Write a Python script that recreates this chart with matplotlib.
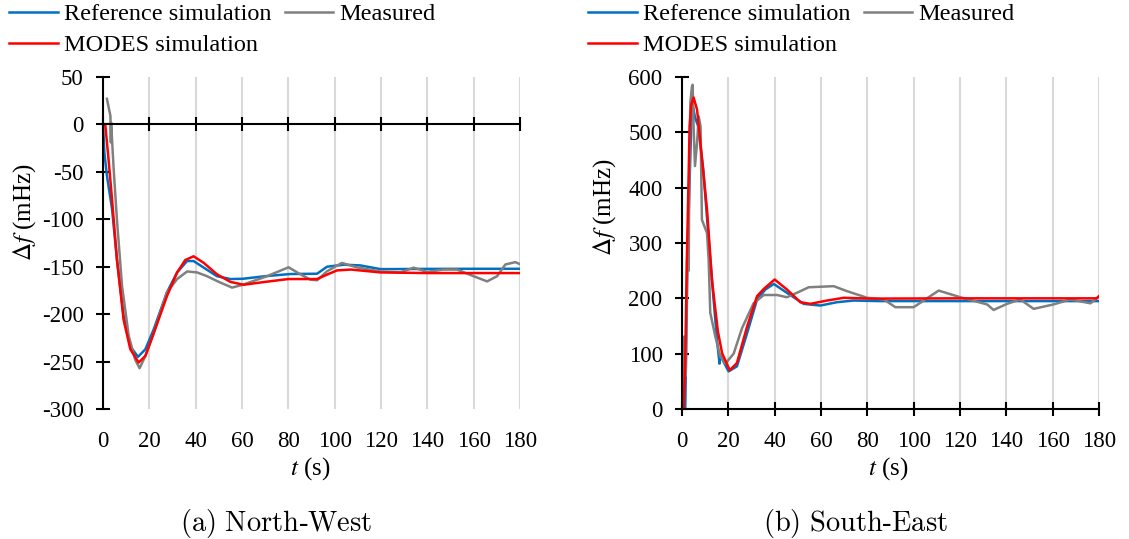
import matplotlib
matplotlib.use('Agg')
import matplotlib.pyplot as plt

plt.rcParams['font.family'] = ['Liberation Serif', 'DejaVu Serif']
plt.rcParams['mathtext.fontset'] = 'stix'
plt.rcParams['axes.unicode_minus'] = False

# North-West (t in s, df in mHz)
nw_ref_t = [0, 0.6, 1.7, 3.9, 6, 8.9, 11.8, 15.1, 18.3, 21.9, 27.6, 32, 36.3, 39.1, 43.5, 49.2, 55,
            60.4, 70, 80.9, 92.4, 96.7, 103.9, 111, 119.7, 125.5, 140, 160, 180]
nw_ref_v = [0, -30, -54, -89, -142, -202, -234, -245, -237, -216, -177, -156, -144, -144, -151, -160, -163,
            -162.7, -160, -157.7, -157.4, -150, -147.9, -148.6, -152.5, -152.5, -152.3, -152.2, -152.2]

nw_meas_t = [1.7, 3.2, 3.4, 3.5, 4.6, 6, 8.2, 11.1, 13.9, 15.8, 18.3, 21.9, 27.6, 32, 36.3, 40.6, 44.9,
             50, 55.7, 60.4, 70.8, 80.1, 85.2, 89.5, 92.4, 96.7, 103.1, 109.6, 119.7, 128.4, 134.1,
             139.9, 147, 152.8, 160, 165.8, 170.1, 173.7, 178, 180]
nw_meas_v = [27, 9, -19, 2, -47, -100, -170, -223, -248, -257, -244, -220, -177, -163, -155, -156, -160,
             -166, -172, -169, -160, -150.6, -158, -163.6, -164.3, -154.8, -146, -150.7, -155, -156, -151,
             -155.5, -153, -153, -160, -165.5, -160, -147.6, -145.2, -147.3]

nw_mod_t = [0, 1, 2.4, 3.9, 6, 8.9, 11.8, 15.4, 18.3, 21.9, 27.6, 32, 35.5, 39.1, 43.5, 49.2, 55, 60.7,
            70, 80, 92.4, 97, 101, 107, 119.7, 140, 160, 180]
nw_mod_v = [0, -1, -37, -79, -142, -206, -237, -251, -244, -220, -181, -156, -143, -139, -146, -158, -166,
            -169, -166, -163, -163, -158, -153.9, -153, -156, -156.7, -156.7, -156.7]

# South-East
se_ref_t = [1.4, 2.5, 4.3, 5.6, 7, 9.2, 12.2, 15.1, 16.2, 16.4, 20.1, 23.7, 28.1, 32.4, 36, 39.6, 45.3,
            52.5, 59.7, 66.9, 74.1, 85, 100, 140, 180]
se_ref_v = [0, 300, 557, 527, 511, 432, 270, 125, 82, 98, 68, 77, 137, 198, 216, 226, 210,
            190, 187, 193, 196, 195, 195, 195, 195]

se_meas_t = [0.7, 1.0, 1.6, 2.2, 2.9, 3.1, 3.6, 4.3, 4.6, 5.0, 5.6, 6.5, 7.2, 8.0, 8.6, 10.8, 11.5, 12.2,
             14.4, 16.5, 18.7, 22.3, 25.9, 30.9, 35.3, 41, 45.3, 49.6, 54.7, 65.5, 71.2, 79.9, 87.1, 92.1,
             100, 110.8, 120.1, 131.7, 134.5, 140.3, 146, 151.8, 160.4, 167.6, 176.3, 179.9]
se_meas_v = [0, 131, 60, 270, 250, 400, 553, 583, 586, 511, 439, 481, 529, 511, 342, 318, 270, 174,
             131, 95, 82, 100, 146, 191, 206, 206, 202, 210, 220, 222, 213, 201, 198, 184,
             184, 214, 202, 189, 179, 190, 198, 181, 189, 198, 191, 203]

se_mod_t = [0, 0.7, 1.4, 2.1, 3.3, 4.0, 5.0, 6.5, 8.2, 10.8, 13, 15.5, 17.3, 20.6, 23.7, 28.1, 32.4, 35.3,
            40, 45.3, 51.1, 55.4, 62.6, 69.8, 81.3, 120, 179, 180]
se_mod_v = [0, 0, 89, 270, 511, 550, 563, 541, 470, 360, 230, 140, 101, 70, 83, 149, 204, 217,
            234, 216, 193, 190, 196, 201, 199.5, 200, 200, 204]

xticks = list(range(0, 181, 20))
labels = ['Reference simulation', 'MODES simulation', 'Measured']

W, H = 1129, 539
fig = plt.figure(figsize=(W / 100, H / 100), dpi=100)


def panel(left_px, ref, meas, mod, ylim, ystep, legend_x, ylab_x, ylab_y, xlab_x, caption, cap_x):
    ax = fig.add_axes([left_px / W, 1 - 409 / H, 417 / W, 332 / H])
    h1, = ax.plot(ref[0], ref[1], color='#0070C0', lw=1.8)
    h2, = ax.plot(meas[0], meas[1], color='#808080', lw=1.8)
    h3, = ax.plot(mod[0], mod[1], color='#FF0000', lw=1.8)
    ax.set_xlim(0, 180)
    ax.set_ylim(*ylim)
    ax.set_yticks(range(ylim[0], ylim[1] + 1, ystep))
    ax.set_xticks(xticks)
    ax.grid(axis='x', color='#d9d9d9', lw=1.5)
    ax.set_axisbelow(True)
    for s in ['top', 'right']:
        ax.spines[s].set_visible(False)
    ax.spines['bottom'].set_position(('data', 0))
    ax.spines['bottom'].set_linewidth(1.5)
    ax.spines['left'].set_linewidth(1.5)
    ax.tick_params(axis='x', direction='inout', length=10, width=1.5, labelbottom=False)
    ax.tick_params(axis='y', direction='inout', length=10, width=1.5, labelsize=16.5, pad=9)
    sec = ax.secondary_xaxis('bottom')
    sec.set_xticks(xticks)
    sec.spines['bottom'].set_visible(False)
    sec.tick_params(length=0, pad=16, labelsize=16.5)
    ax.legend([h1, h3, h2], labels, ncol=2, loc='upper left',
              bbox_to_anchor=(legend_x / W, 1 - 3 / H), bbox_transform=fig.transFigure,
              frameon=False, borderpad=0, borderaxespad=0, handlelength=2.0,
              handletextpad=0.25, columnspacing=0.55, labelspacing=0.38, fontsize=17.5)
    fig.text(ylab_x / W, 1 - ylab_y / H, r'$\Delta f$ (mHz)', rotation=90, fontsize=18,
             ha='center', va='center')
    fig.text(xlab_x / W, 1 - 469 / H, r'$t$ (s)', fontsize=18, ha='center', va='center')
    fig.text(cap_x / W, 1 - 523 / H, caption, fontsize=20.5, ha='center', va='center',
             math_fontfamily='cm')
    return ax


panel(103, (nw_ref_t, nw_ref_v), (nw_meas_t, nw_meas_v), (nw_mod_t, nw_mod_v), (-300, 50), 50,
      9, 25, 212, 310, r'$\mathrm{(a)\ North}$-$\mathrm{West}$', 276)
panel(682, (se_ref_t, se_ref_v), (se_meas_t, se_meas_v), (se_mod_t, se_mod_v), (0, 600), 100,
      588, 605, 207, 888, r'$\mathrm{(b)\ South}$-$\mathrm{East}$', 855)

fig.savefig('out.png', dpi=100)
